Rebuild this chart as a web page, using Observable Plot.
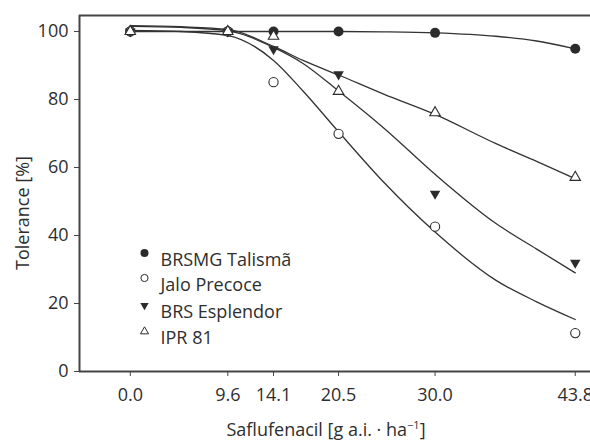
<!DOCTYPE html>
<html>
<head>
<meta charset="utf-8">
<script src="https://cdn.jsdelivr.net/npm/d3@7"></script>
<script src="https://cdn.jsdelivr.net/npm/@observablehq/plot@0.6"></script>
<style>
  html, body { margin: 0; padding: 0; background: #fff; }
  #chart svg { display: block; }
</style>
</head>
<body>
<div id="chart"></div>
<script>
// Observed data
const doses = [0, 9.6, 14.1, 20.5, 30.0, 43.8];
const talisma = [100, 100, 100, 100, 99.6, 94.9];
const jalo = [100, 100, 85.1, 69.9, 42.6, 11.3];
const esplendor = [100, 100, 94.8, 87.4, 52.3, 32.0];
const ipr81 = [100, 100, 98.6, 82.4, 76.1, 57.1];

// Fitted curves
const curveX = [0, 5, 9.6, 14.1, 17, 20.5, 25, 30, 36, 40, 43.8];
const talismaFit = [100.0, 100.0, 100.0, 100.0, 100.0, 100.0, 99.9, 99.6, 98.6, 97.2, 94.9];
const jaloFit = [100.3, 100.0, 98.8, 91.5, 82.5, 70.5, 55.5, 41.0, 26.8, 20.5, 15.3];
const esplendorFit = [101.5, 101.2, 100.2, 95.3, 90.6, 82.5, 71.5, 58.0, 43.5, 36.0, 29.0];
const iprFit = [101.7, 101.4, 100.6, 95.6, 91.5, 87.2, 81.5, 75.6, 67.0, 61.8, 56.7];

const seriesNames = ["BRSMG Talismã", "Jalo Precoce", "BRS Esplendor", "IPR 81"];
const xTicks = [0, 9.6, 14.1, 20.5, 30.0, 43.8];
const yTicks = [0, 20, 40, 60, 80, 100];
const xDomain = [-5, 45.3];
const yDomain = [0, 104.7];

const seriesObs = [talisma, jalo, esplendor, ipr81];
const seriesFit = [talismaFit, jaloFit, esplendorFit, iprFit];
const styles = [
  {symbol: "circle", fill: "#2b2b2b", stroke: "none", r: 5, rotate: 0, lr: 4},
  {symbol: "circle", fill: "white", stroke: "#2b2b2b", r: 4.6, rotate: 0, lr: 3.6},
  {symbol: "triangle", fill: "#2b2b2b", stroke: "none", r: 3.9, rotate: 180, lr: 3.1},
  {symbol: "triangle", fill: "white", stroke: "#2b2b2b", r: 3.9, rotate: 0, lr: 3.0}
];

const fitData = seriesFit.flatMap((arr, i) => arr.map((v, j) => ({x: curveX[j], y: v, s: seriesNames[i]})));
const obsData = seriesObs.map((arr, i) => arr.map((v, j) => ({x: doses[j], y: v, s: seriesNames[i]})));

const font = "'Open Sans', sans-serif";
const ink = "#2e2e2e";
const legendDy = [237.5, 262.5, 290, 316];

const marks = [
  Plot.line(fitData, {x: "x", y: "y", z: "s", curve: "monotone-x", stroke: "#333", strokeWidth: 1.3}),
  ...obsData.map((d, i) => Plot.dot(d, {
    x: "x", y: "y", symbol: styles[i].symbol, r: styles[i].r, rotate: styles[i].rotate,
    fill: styles[i].fill, stroke: styles[i].stroke, strokeWidth: 1.1
  })),
  Plot.ruleX([xDomain[0]], {stroke: "#444", strokeWidth: 2}),
  Plot.ruleY([yDomain[0], yDomain[1]], {stroke: "#444", strokeWidth: 2}),
  Plot.axisX(xTicks, {tickFormat: d => d.toFixed(1), tickSize: 5, tickPadding: 12, fontSize: 18, stroke: "#444", fill: ink, label: null}),
  Plot.axisY(yTicks, {tickSize: 5, tickPadding: 6, fontSize: 18, stroke: "#444", fill: ink, label: null}),
  ...seriesNames.map((name, i) => Plot.dot([name], {
    frameAnchor: "top-left", dx: 65, dy: legendDy[i], symbol: styles[i].symbol, r: styles[i].lr,
    rotate: styles[i].rotate, fill: styles[i].fill, stroke: styles[i].stroke, strokeWidth: 1
  })),
  ...seriesNames.map((name, i) => Plot.text([name], {
    frameAnchor: "top-left", dx: 81, dy: legendDy[i], text: d => d, textAnchor: "start",
    fontSize: 18, fill: ink
  }))
];

const chart = Plot.plot({
  width: 590,
  height: 441,
  marginLeft: 79,
  marginRight: 0,
  marginTop: 15,
  marginBottom: 70,
  style: {fontFamily: font, fontSize: "18px", color: ink, background: "white", overflow: "visible"},
  x: {domain: xDomain, axis: null},
  y: {domain: yDomain, axis: null},
  marks
});

const svg = d3.select(chart);
svg.append("text")
  .attr("transform", "translate(22,213) rotate(-90)")
  .attr("text-anchor", "middle")
  .attr("dominant-baseline", "central")
  .attr("font-family", font)
  .attr("font-size", 18)
  .attr("fill", ink)
  .text("Tolerance [%]");

const xl = svg.append("text")
  .attr("x", 326)
  .attr("y", 436)
  .attr("text-anchor", "middle")
  .attr("font-family", font)
  .attr("font-size", 18)
  .attr("fill", ink);
xl.append("tspan").text("Saflufenacil [g a.i. · ha");
xl.append("tspan").attr("baseline-shift", "super").attr("font-size", 11).text("−1");
xl.append("tspan").text("]");

document.getElementById("chart").appendChild(chart);
</script>
</body>
</html>
